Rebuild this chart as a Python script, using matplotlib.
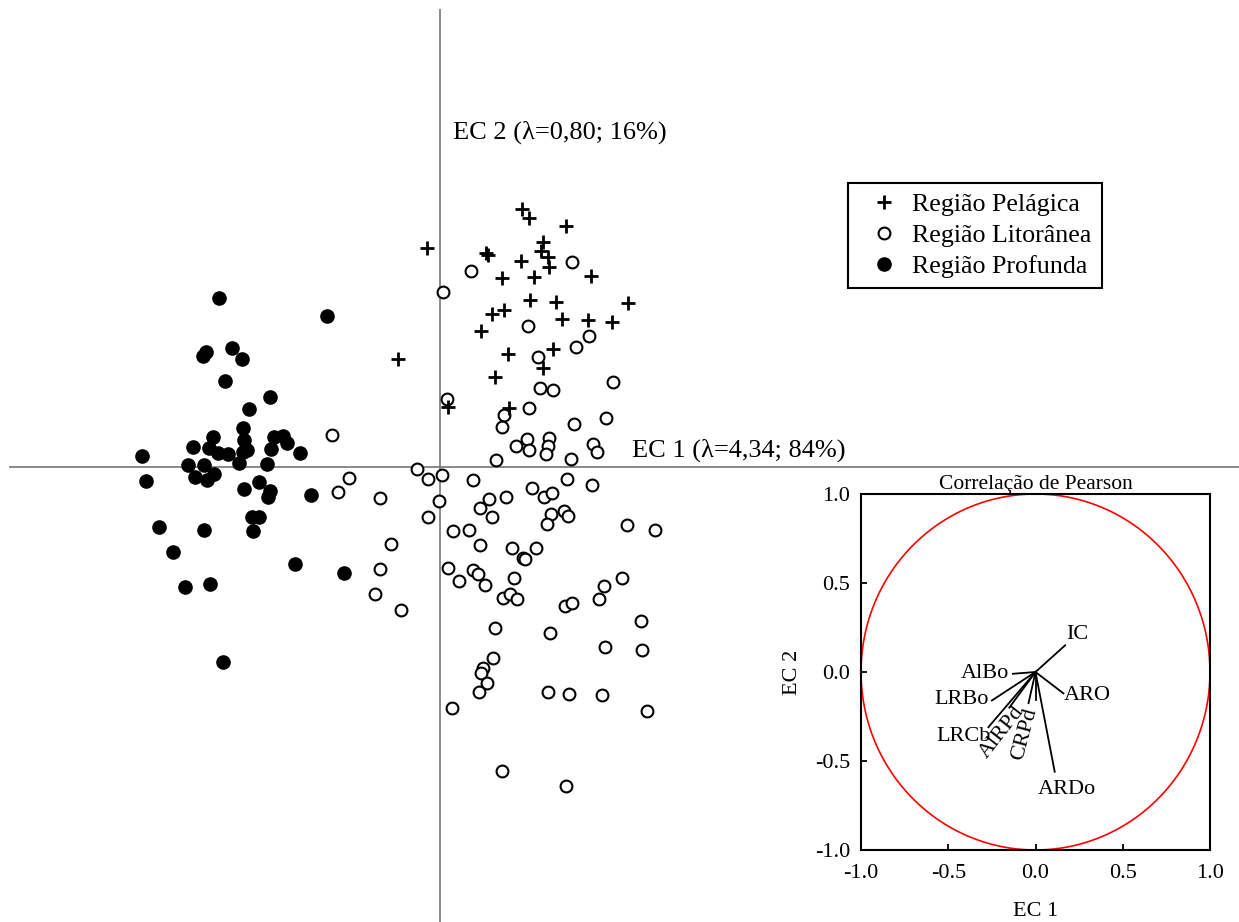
import numpy as np
import matplotlib
matplotlib.use("Agg")
import matplotlib.pyplot as plt

plt.rcParams['font.family'] = ['Liberation Serif', 'DejaVu Serif']

# escores das amostras (EC1, EC2)
pel_x = [0.82, 0.89, 1.26, -0.13, 0.46, 0.48, 1.03, 1.01, 1.08, 1.09, 0.81, 0.62, 0.94, 1.51, 0.90,
         1.16, 1.88, 0.64, 0.52, 1.22, 1.48, 1.72, 0.41, 0.68, 1.13, 1.03, -0.42, 0.55, 0.69, 0.08]
pel_y = [2.58, 2.49, 2.41, 2.19, 2.14, 2.12, 2.25, 2.16, 2.10, 2.00, 2.06, 1.89, 1.90, 1.91, 1.67,
         1.65, 1.64, 1.57, 1.53, 1.48, 1.47, 1.45, 1.36, 1.13, 1.18, 0.99, 1.08, 0.90, 0.59, 0.60]

lit_x = [0.31, 1.32, 0.03, 0.88, 1.49, 1.36, 0.98, 1.73, 1.00, 1.13, 0.07, 0.89, 0.64, 0.62, 1.66,
         1.34, -1.08, 0.76, 0.87, 0.89, 1.09, 1.08, 1.06, 1.53, 1.57, 0.56, 1.31, -0.23, -0.91, -0.12,
         0.02, -1.02, 0.33, 1.27, 1.52, -0.60, -0.01, 0.92, 0.49, 0.66, 1.04, 1.12, 0.40, 0.52, -0.12,
         1.24, 1.28, 1.11, 1.07, 1.87, 2.15, 0.13, 0.29, -0.49, 0.40, 0.72, 0.96, 0.83, 0.85, -0.60,
         0.08, 0.33, 0.38, 0.19, 0.45, 0.74, -0.65, -0.39, 0.63, 0.70, 0.77, 1.25, 1.32, 1.59, 1.64,
         1.82, 2.01, 0.55, 1.10, 1.65, 2.02, 0.53, 0.43, 0.41, 0.47, 0.39, 1.08, 1.29, 1.62, 0.12,
         2.07, 0.62, 1.26]
lit_y = [1.96, 2.05, 1.75, 1.41, 1.31, 1.20, 1.10, 0.85, 0.79, 0.77, 0.68, 0.59, 0.52, 0.40, 0.49,
         0.43, 0.32, 0.21, 0.28, 0.17, 0.29, 0.21, 0.13, 0.23, 0.15, 0.07, 0.08, -0.02, -0.11, -0.12,
         -0.08, -0.25, -0.13, -0.12, -0.18, -0.31, -0.34, -0.21, -0.32, -0.30, -0.30, -0.26, -0.41, -0.50, -0.50,
         -0.44, -0.49, -0.47, -0.57, -0.58, -0.63, -0.64, -0.63, -0.77, -0.78, -0.81, -0.81, -0.91, -0.92, -1.02,
         -1.01, -1.03, -1.07, -1.14, -1.18, -1.11, -1.27, -1.43, -1.31, -1.27, -1.32, -1.39, -1.36, -1.32, -1.19,
         -1.11, -1.54, -1.61, -1.66, -1.80, -1.83, -1.91, -2.01, -2.06, -2.16, -2.25, -2.25, -2.27, -2.28, -2.41,
         -2.44, -3.04, -3.19]

pro_x = [-2.21, -1.13, -2.34, -2.37, -2.08, -1.98, -2.15, -1.70, -1.91, -1.97, -2.27, -2.47, -2.31, -2.22, -2.12,
         -1.96, -1.93, -1.97, -1.66, -1.57, -1.53, -1.69, -1.40, -2.98, -2.52, -2.36, -2.01, -1.73, -2.94, -2.45,
         -2.33, -2.26, -1.96, -1.81, -1.70, -1.72, -1.29, -1.88, -1.81, -1.87, -2.81, -2.36, -2.67, -1.45, -0.96,
         -2.55, -2.30, -2.17]
pro_y = [1.69, 1.51, 1.15, 1.11, 1.19, 1.08, 0.86, 0.70, 0.58, 0.39, 0.30, 0.20, 0.19, 0.14, 0.13,
         0.27, 0.17, 0.15, 0.30, 0.31, 0.24, 0.18, 0.14, 0.11, 0.02, 0.02, 0.04, 0.03, -0.14, -0.10,
         -0.13, -0.07, -0.22, -0.15, -0.24, -0.30, -0.28, -0.50, -0.50, -0.64, -0.60, -0.63, -0.85, -0.97, -1.06,
         -1.20, -1.17, -1.95]

# correlacoes de Pearson das variaveis com os eixos
var_names = ["IC", "AlBo", "LRBo", "LRCb", "AlRPd", "CRPd", "", "ARO", "ARDo"]
var_ec1 = [0.17, -0.13, -0.25, -0.27, -0.15, -0.04, 0.00, 0.16, 0.11]
var_ec2 = [0.15, -0.01, -0.16, -0.31, -0.20, -0.175, -0.16, -0.12, -0.56]

fig = plt.figure(figsize=(12.39, 9.22), dpi=100)

# grafico principal
ax = fig.add_axes([0, 0, 1, 1])
ax.set_xlim(-4.40, 7.99)
ax.set_ylim(-4.55, 4.67)
ax.axis("off")
ax.plot([0, 0], [-4.55, 4.57], color="gray", lw=1.3, zorder=1)
ax.plot([-4.30, 7.99], [0, 0], color="gray", lw=1.3, zorder=1)

ax.plot(pel_x, pel_y, "+", color="black", ms=10, mew=2.0, ls="none", zorder=4,
        label="Região Pelágica")
ax.plot(lit_x, lit_y, "o", mfc="white", mec="black", ms=8.5, mew=1.5, ls="none", zorder=3,
        label="Região Litorânea")
ax.plot(pro_x, pro_y, "o", color="black", ms=9.5, ls="none", zorder=3,
        label="Região Profunda")

ax.text(0.13, 3.35, "EC 2 (λ=0,80; 16%)", fontsize=19, va="center", ha="left")
ax.text(1.92, 0.17, "EC 1 (λ=4,34; 84%)", fontsize=19, va="center", ha="left")

leg = ax.legend(loc="upper left", bbox_to_anchor=(848 / 1239, 1 - 183 / 922),
                bbox_transform=fig.transFigure, borderaxespad=0, fontsize=18.7,
                fancybox=False, edgecolor="black", framealpha=1,
                handlelength=2.0, handletextpad=0.1, labelspacing=0.3, borderpad=0.38)
leg.get_frame().set_linewidth(1.5)

# circulo de correlacao
ins = fig.add_axes([861 / 1239, 72 / 922, 349 / 1239, 356 / 922])
t = np.linspace(0, 2 * np.pi, 400)
ins.plot(np.cos(t), np.sin(t), color="red", lw=1.2)
for nx, ny in zip(var_ec1, var_ec2):
    ins.plot([0, nx], [0, ny], color="black", lw=1.3)

ins.text(0.24, 0.21, "IC", fontsize=16, ha="center", va="center")
ins.text(-0.15, -0.01, "AlBo", fontsize=16, ha="right", va="center")
ins.text(-0.27, -0.155, "LRBo", fontsize=16, ha="right", va="center")
ins.text(-0.41, -0.36, "LRCb", fontsize=16, ha="center", va="center")
ins.text(-0.19, -0.34, "AlRPd", fontsize=16, ha="center", va="center", rotation=52)
ins.text(-0.06, -0.35, "CRPd", fontsize=16, ha="center", va="center", rotation=75)
ins.text(0.16, -0.13, "ARO", fontsize=16, ha="left", va="center")
ins.text(0.18, -0.66, "ARDo", fontsize=16, ha="center", va="center")

ins.set_xlim(-1, 1)
ins.set_ylim(-1, 1)
ins.set_xticks([-1.0, -0.5, 0.0, 0.5, 1.0])
ins.set_yticks([-1.0, -0.5, 0.0, 0.5, 1.0])
ins.set_xticklabels(["-1.0", "-0.5", "0.0", "0.5", "1.0"])
ins.set_yticklabels(["-1.0", "-0.5", "0.0", "0.5", "1.0"])
ins.tick_params(direction="in", length=4, width=1.3, labelsize=16, pad=8)
ins.tick_params(axis="x", pad=10)
for s in ins.spines.values():
    s.set_linewidth(1.5)
ins.set_xlabel("EC 1", fontsize=16, labelpad=14)
ins.set_ylabel("EC 2", fontsize=16, labelpad=9)
ins.set_title("Correlação de Pearson", fontsize=15.5, pad=2)

fig.savefig("out.png", dpi=100)
